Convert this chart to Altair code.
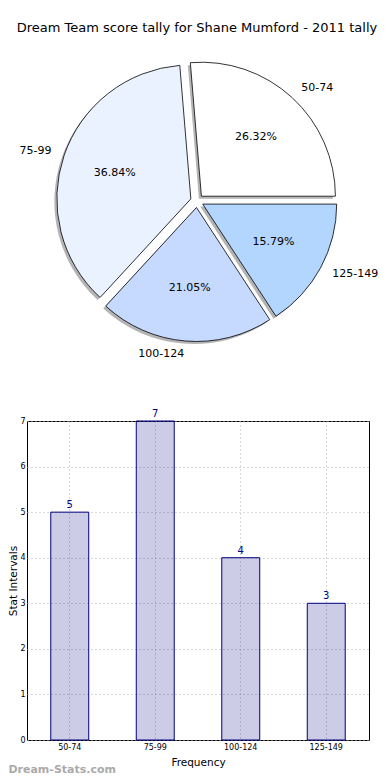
import math
import altair as alt
import pandas as pd

# ---- data ----
categories = ["50-74", "75-99", "100-124", "125-149"]
counts = [5, 7, 4, 3]
pie_colors = ["#ffffff", "#eaf2ff", "#c6d9ff", "#b3d6ff"]

FONT = "DejaVu Sans"
total = sum(counts)

# clockwise order starting at 3 o'clock (matplotlib draws counter-clockwise from 3 o'clock)
order = list(reversed(range(len(categories))))
rows = []
cum = 0
for i in order:
    start = cum
    end = cum + counts[i]
    cum = end
    rows.append({"cat": categories[i], "val": counts[i], "start": start, "end": end,
                 "mid": (start + end) / 2, "pct": f"{100 * counts[i] / total:.2f}%",
                 "color": pie_colors[i]})
pie_df = pd.DataFrame(rows)

R = 134
EXPLODE = 6.5
theta_scale = alt.Scale(domain=[0, total], range=[math.pi / 2, math.pi / 2 + 2 * math.pi])

layers_shadow = []
layers_arc = []
layers_text = []
for r in rows:
    a = math.pi / 2 + 2 * math.pi * r["mid"] / total
    dx = EXPLODE * math.sin(a)
    dy = -EXPLODE * math.cos(a)
    base = alt.Chart(pie_df).transform_filter(alt.datum.cat == r["cat"])
    layers_shadow.append(
        base.mark_arc(radius=R, xOffset=dx - 2.5, yOffset=dy + 2.5, color="#777777", opacity=0.55)
        .encode(theta=alt.Theta("start:Q", scale=theta_scale, stack=None), theta2="end:Q")
    )
    layers_arc.append(
        base.mark_arc(radius=R, xOffset=dx, yOffset=dy, fill=r["color"], stroke="black", strokeWidth=0.8)
        .encode(theta=alt.Theta("start:Q", scale=theta_scale, stack=None), theta2="end:Q")
    )
    align = "left" if math.sin(a) > 0 else "right"
    layers_text.append(
        base.mark_text(radius=R * 1.1, xOffset=dx, yOffset=dy, align=align, baseline="middle",
                       font=FONT, fontSize=11, color="black")
        .encode(theta=alt.Theta("mid:Q", scale=theta_scale, stack=None), text="cat:N")
    )
    layers_text.append(
        base.mark_text(radius=R * 0.6, xOffset=dx, yOffset=dy, align="center", baseline="middle",
                       font=FONT, fontSize=11, color="black")
        .encode(theta=alt.Theta("mid:Q", scale=theta_scale, stack=None), text="pct:N")
    )

pie = alt.layer(*layers_shadow, *layers_arc, *layers_text).properties(
    width=340, height=308,
    title=alt.TitleParams("Dream Team score tally for Shane Mumford - 2011 tally",
                          font=FONT, fontSize=13, fontWeight="normal", color="black", offset=12),
)

bar_df = pd.DataFrame({"cat": categories, "val": counts})
grid_dash = [1, 3]
xenc = alt.X("cat:N", sort=categories,
             scale=alt.Scale(paddingInner=0.556, paddingOuter=0.278),
             axis=alt.Axis(title="Frequency", labelAngle=0, grid=True, gridDash=grid_dash,
                           gridColor="#b0b0b0", bandPosition=0.5, ticks=False, domain=False,
                           labelFont=FONT, labelFontSize=8, labelColor="black", labelPadding=3,
                           titleFont=FONT, titleFontSize=10.5, titleFontWeight="normal",
                           titleColor="black", titlePadding=6))
yenc = alt.Y("val:Q", scale=alt.Scale(domain=[0, 7]),
             axis=alt.Axis(title="Stat Intervals", values=list(range(8)), grid=True,
                           gridDash=grid_dash, gridColor="#b0b0b0", ticks=False, domain=False,
                           labelFont=FONT, labelFontSize=8, labelColor="black", labelPadding=2,
                           titleFont=FONT, titleFontSize=10.5, titleFontWeight="normal",
                           titleColor="black", titlePadding=1))

bars = alt.Chart(bar_df).mark_bar(fill="navy", fillOpacity=0.2, stroke="navy", strokeWidth=1).encode(
    x=xenc, y=yenc)
bar_text = alt.Chart(bar_df).mark_text(baseline="bottom", dy=-2, font=FONT, fontSize=10,
                                       color="#00008b").encode(
    x=alt.X("cat:N", sort=categories), y="val:Q", text="val:Q")

bar_chart = alt.layer(bars, bar_text).properties(width=342, height=319)

chart = alt.vconcat(pie, bar_chart, spacing=48).properties(
    padding={"left": 0, "top": 14, "right": 0, "bottom": 0},
    title=alt.TitleParams("Dream-Stats.com", orient="bottom", anchor="start", frame="bounds",
                          font=FONT, fontSize=11, fontWeight="bold", color="#aaaaaa", offset=-4),
).configure_view(stroke="black", strokeWidth=1)

chart.save("out.html", embed_options={"renderer": "svg", "actions": False})
